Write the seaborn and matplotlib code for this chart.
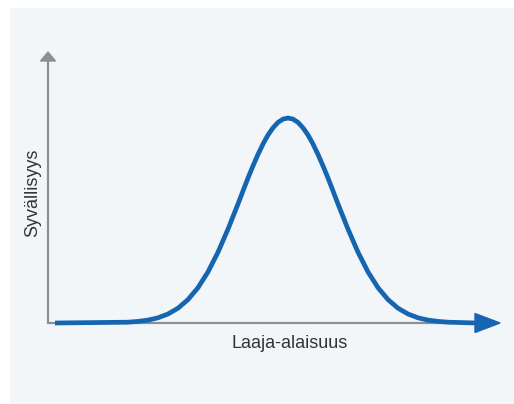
import matplotlib
matplotlib.use("Agg")
import matplotlib.pyplot as plt
from matplotlib.patches import Rectangle, Polygon
import numpy as np
import pandas as pd
import seaborn as sns

# curve (x: breadth, y: depth), axis origin at (0, 0)
breadth = [7, 80, 90, 100, 110, 120, 130, 140, 150, 160, 170, 180, 190, 195, 200,
           205, 210, 215, 220, 225, 230, 235, 240, 245, 250, 255, 260, 265, 270,
           275, 280, 285, 290, 300, 310, 320, 330, 340, 350, 360, 370, 380, 390,
           400, 429]
depth = [0, 0.8, 1.6, 2.9, 5.2, 9.0, 14.8, 23.4, 35.3, 51.1, 70.8, 93.9, 119, 132.1, 145,
         157.1, 168.6, 179, 188, 195.2, 200.6, 203.9, 205, 203.9, 200.6, 195.2, 188, 179, 168.6,
         157.1, 145, 132.1, 119, 93.9, 70.8, 51.1, 35.3, 23.4, 14.8, 9.0, 5.2, 2.9, 1.6,
         0.8, 0]

x_label = "Laaja-alaisuus"
y_label = "Syvällisyys"

blue = "#1565b0"
grey = "#8b9096"

sns.set_style("white")
plt.rcParams["font.family"] = ["Liberation Sans", "DejaVu Sans"]

fig = plt.figure(figsize=(5.14, 4.04), dpi=100)
fig.patch.set_facecolor("white")

# light panel behind the drawing
bg = fig.add_axes([10 / 514, 0, 1 - 10 / 514, 1 - 8 / 404], zorder=0)
bg.set_facecolor("#f3f6f9")
bg.axis("off")
bg.add_patch(Rectangle((0, 0), 1, 1, transform=bg.transAxes,
                       facecolor="#f3f6f9", edgecolor="none"))

ax = fig.add_axes([0, 0, 1, 1], zorder=1)
ax.set_facecolor("none")
ax.patch.set_alpha(0)
ax.set_xlim(-48, 466)
ax.set_ylim(-81, 323)
ax.axis("off")

# grey axes
x_end, y_top = 429, 271
ax.plot([0, x_end], [0, 0], color=grey, lw=1.6, zorder=1)
ax.plot([0, 0], [0, y_top - 8], color=grey, lw=1.6, zorder=1)
ax.add_patch(Polygon([[-7.5, y_top - 9], [7.5, y_top - 9], [0, y_top]],
                     closed=True, color=grey, zorder=1))

df = pd.DataFrame({"breadth": breadth, "depth": depth})
sns.lineplot(data=df, x="breadth", y="depth", ax=ax, color=blue, lw=3.4,
             solid_capstyle="butt", solid_joinstyle="round", zorder=3)
ax.add_patch(Polygon([[x_end - 2, 9.5], [x_end - 2, -9.5], [x_end + 23, 0]],
                     closed=True, color=blue, zorder=3))

ax.text(242, -20, x_label, ha="center", va="center", fontsize=13, color="#333333")
ax.text(-15, 130, y_label, ha="center", va="center", rotation=90, fontsize=13,
        color="#333333")
ax.set_xlabel("")
ax.set_ylabel("")

fig.savefig("out.png", dpi=100)
